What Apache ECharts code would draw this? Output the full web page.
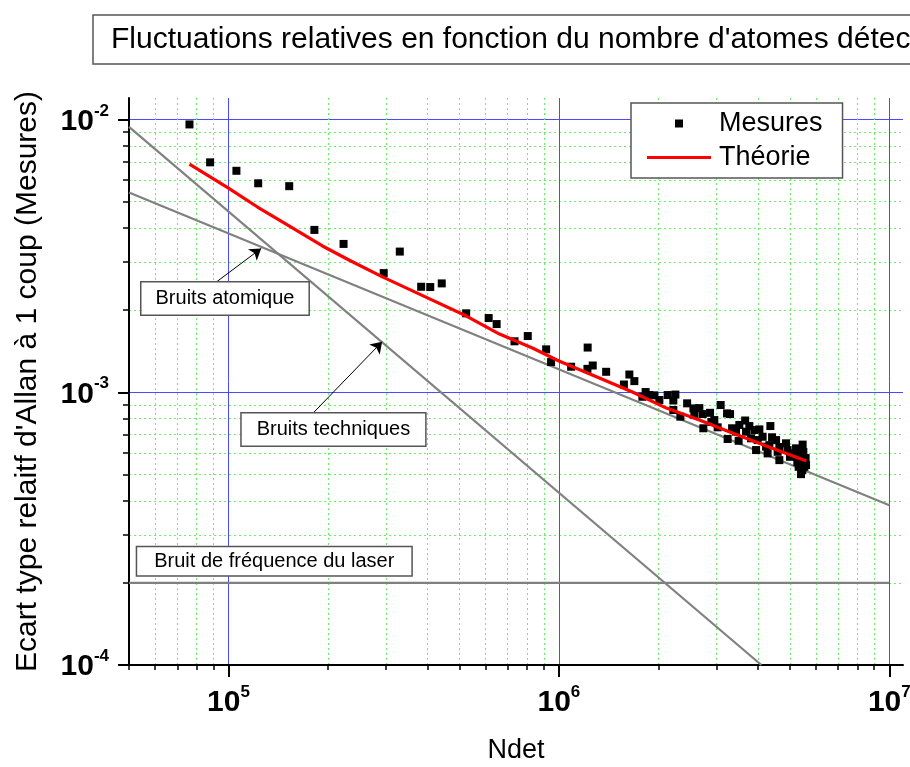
<!DOCTYPE html>
<html>
<head>
<meta charset="utf-8">
<script src="https://cdn.jsdelivr.net/npm/echarts@6/dist/echarts.min.js"></script>
<style>
html,body{margin:0;padding:0;background:#fff;}
#chart{width:910px;height:767px;}
</style>
</head>
<body>
<div id="chart"></div>
<script>
// ---- Data ----
const titleText = "Fluctuations relatives en fonction du nombre d'atomes détectés";
const xAxisTitle = "Ndet";
const yAxisTitle = "Ecart type relaitf d'Allan à 1 coup (Mesures)";

const xMajorTicks = [1e5, 1e6, 1e7];
const xMajorExponents = ['5', '6', '7'];
const xMinorTicks = [5e4, 6e4, 7e4, 8e4, 9e4, 2e5, 3e5, 4e5, 5e5, 6e5, 7e5, 8e5, 9e5, 2e6, 3e6, 4e6, 5e6, 6e6, 7e6, 8e6, 9e6];
const yMajorTicks = [1e-4, 1e-3, 1e-2];
const yMajorExponents = ['-4', '-3', '-2'];
const yMinorTicks = [2e-4, 3e-4, 4e-4, 5e-4, 6e-4, 7e-4, 8e-4, 9e-4, 2e-3, 3e-3, 4e-3, 5e-3, 6e-3, 7e-3, 8e-3, 9e-3];

const mesuresNdet = [
  7.62e4, 8.80e4, 1.057e5, 1.23e5, 1.527e5, 1.82e5, 2.23e5, 2.95e5, 3.30e5, 3.83e5,
  4.08e5, 4.42e5, 5.24e5, 6.13e5, 6.48e5, 7.34e5, 8.05e5, 9.15e5, 9.47e5, 1.089e6,
  1.222e6, 1.220e6, 1.266e6, 1.39e6, 1.573e6, 1.634e6, 1.692e6, 1.83e6, 1.789e6, 1.945e6,
  2.134e6, 2.252e6, 2.220e6, 2.220e6, 2.331e6, 2.444e6, 2.553e6, 2.570e6, 2.723e6, 2.736e6,
  2.867e6, 2.954e6, 3.023e6, 3.087e6, 3.228e6, 3.296e6, 3.241e6, 3.343e6, 3.437e6, 3.499e6,
  3.661e6, 3.684e6, 3.814e6, 3.903e6, 3.995e6, 4.043e6, 3.951e6, 4.136e6, 4.236e6, 4.365e6,
  4.417e6, 4.283e6, 4.542e6, 4.592e6, 4.647e6, 4.868e6, 4.923e6, 5.006e6, 5.098e6, 5.22e6,
  5.342e6, 5.466e6, 5.493e6, 5.405e6, 5.531e6, 5.598e6, 5.316e6, 5.267e6, 5.455e6, 5.493e6,
  5.58e6, 4.647e6, 4.335e6, 3.770e6, 3.516e6, 2.661e6, 2.893e6, 2.014e6, 1.878e6
];
const mesuresEcart = [
  9.60e-3, 6.97e-3, 6.49e-3, 5.84e-3, 5.70e-3, 3.94e-3, 3.50e-3, 2.736e-3, 3.281e-3, 2.438e-3,
  2.432e-3, 2.508e-3, 1.948e-3, 1.872e-3, 1.779e-3, 1.538e-3, 1.608e-3, 1.437e-3, 1.291e-3, 1.241e-3,
  1.459e-3, 1.219e-3, 1.254e-3, 1.189e-3, 1.068e-3, 1.162e-3, 1.099e-3, 1.002e-3, 9.63e-4, 9.745e-4,
  9.77e-4, 9.81e-4, 9.33e-4, 8.61e-4, 8.14e-4, 9.11e-4, 8.73e-4, 8.25e-4, 8.32e-4, 7.38e-4,
  8.41e-4, 7.91e-4, 7.44e-4, 8.98e-4, 8.37e-4, 8.32e-4, 6.74e-4, 7.38e-4, 7.17e-4, 6.64e-4,
  7.88e-4, 7.17e-4, 6.78e-4, 7.27e-4, 6.68e-4, 7.31e-4, 6.14e-4, 6.87e-4, 6.32e-4, 7.52e-4,
  6.84e-4, 5.97e-4, 6.68e-4, 6.05e-4, 5.64e-4, 6.50e-4, 6.14e-4, 5.80e-4, 5.97e-4, 6.23e-4,
  5.89e-4, 6.43e-4, 5.64e-4, 5.01e-4, 5.33e-4, 5.41e-4, 5.33e-4, 5.55e-4, 5.19e-4, 6.04e-4,
  5.74e-4, 6.30e-4, 6.40e-4, 7.52e-4, 7.59e-4, 8.75e-4, 7.78e-4, 9.37e-4, 9.77e-4
];

const theorieNdet = [7.62e4, 1e5, 1.224e5, 1.477e5, 1.925e5, 2.323e5, 2.924e5, 3.784e5, 5.25e5, 6.61e5,
  8.315e5, 1e6, 1.326e6, 1.669e6, 2.115e6, 2.661e6, 3.35e6, 4.245e6, 5.61e6];
const theorieEcart = [6.87e-3, 5.61e-3, 4.78e-3, 4.17e-3, 3.44e-3, 3.05e-3, 2.65e-3, 2.29e-3, 1.904e-3, 1.635e-3,
  1.453e-3, 1.302e-3, 1.128e-3, 1.002e-3, 8.75e-4, 7.91e-4, 7.09e-4, 6.35e-4, 5.60e-4];

const atomiqueNdet = [5e4, 1e7];
const atomiqueEcart = [5.4e-3, 3.85e-4];
const techniquesNdet = [5e4, 4.1e6];
const techniquesEcart = [9.4e-3, 1e-4];
const laserNdet = [5e4, 1e7];
const laserEcart = [2e-4, 2e-4];

// annotation labels (text, anchor in data space)
const annotTexts = ['Bruits atomique', 'Bruits techniques', 'Bruit de fréquence du laser'];
const annotNdet = [9.76e4, 2.078e5, 1.376e5];
const annotEcart = [2.208e-3, 7.30e-4, 2.40e-4];
// arrows: start and tip in data space
const arrowStartNdet = [9.07e4, 1.812e5];
const arrowStartEcart = [2.508e-3, 8.44e-4];
const arrowTipNdet = [1.256e5, 2.917e5];
const arrowTipEcart = [3.37e-3, 1.532e-3];

// ---- Chart ----
const FONT = "'Liberation Sans', Arial, sans-serif";
const NARROW = "'Liberation Sans Narrow', 'Arial Narrow', 'Liberation Sans', sans-serif";
const zip = (a, b) => a.map((v, i) => [v, b[i]]);
const near = (v, t) => Math.abs(Math.log10(v) - Math.log10(t)) < 1e-6;
const richLbl = {
  b: { fontFamily: NARROW, fontWeight: 'bold', fontSize: 30, lineHeight: 34, verticalAlign: 'bottom', color: '#000' },
  s: { fontFamily: NARROW, fontWeight: 'bold', fontSize: 17, lineHeight: 17, verticalAlign: 'top', color: '#000' }
};
const lblFmt = (ticks, exps) => (v) => {
  const i = ticks.findIndex(t => near(v, t));
  return i < 0 ? '' : '{b|10}{s|' + exps[i] + '}';
};

const chart = echarts.init(document.getElementById('chart'), null, { renderer: 'canvas' });

const arrowData = arrowStartNdet.map((x, i) => [
  { coord: [x, arrowStartEcart[i]] },
  { coord: [arrowTipNdet[i], arrowTipEcart[i]] }
]);

const option = {
  animation: false,
  backgroundColor: '#fff',
  textStyle: { fontFamily: FONT },
  title: {
    text: titleText, left: 93, top: 15,
    padding: [10, 400, 9, 18],
    borderColor: '#555', borderWidth: 1.5,
    textStyle: { fontFamily: FONT, fontSize: 30, fontWeight: 'normal', color: '#000' }
  },
  legend: {
    orient: 'vertical', left: 631, top: 103,
    data: [
      { name: 'Mesures', icon: 'path://M0,0H10V10H0Z' },
      { name: 'Théorie', icon: 'path://M0,0H64V3H0Z' }
    ],
    itemWidth: 64, itemHeight: 8, itemGap: 7,
    symbolKeepAspect: true,
    textStyle: { fontFamily: FONT, fontSize: 27, color: '#000', padding: [0, 0, 0, 3] },
    backgroundColor: '#fff', borderColor: '#555', borderWidth: 1.5,
    padding: [7, 20, 7, 16], z: 50
  },
  grid: { left: 129, right: 7, top: 98, bottom: 102, containLabel: false, outerBoundsMode: 'none' },
  xAxis: [
    {
      type: 'log', logBase: 10, min: 5e4, max: 1.1e7, position: 'bottom',
      name: xAxisTitle, nameLocation: 'middle', nameGap: 72, nameMoveOverlap: false,
      nameTextStyle: { fontFamily: FONT, fontSize: 27, color: '#000' },
      axisLine: { show: true, onZero: false, lineStyle: { color: '#000', width: 2 } },
      axisTick: { show: true, customValues: xMajorTicks, length: 12, lineStyle: { color: '#000', width: 2 } },
      axisLabel: { show: true, customValues: xMajorTicks, margin: 19, formatter: lblFmt(xMajorTicks, xMajorExponents), rich: richLbl },
      splitLine: { show: true, lineStyle: { color: '#4a4aff', width: 1 } },
      minorTick: { show: false }, minorSplitLine: { show: false }
    },
    {
      type: 'log', logBase: 10, min: 5e4, max: 1.1e7, position: 'bottom',
      axisLine: { show: false },
      axisTick: { show: true, customValues: xMinorTicks, length: 5, lineStyle: { color: '#000', width: 1.5 } },
      axisLabel: { show: false },
      splitLine: { show: true, lineStyle: { color: '#66f066', width: 1, type: [2, 3] } }
    }
  ],
  yAxis: [
    {
      type: 'log', logBase: 10, min: 1e-4, max: 0.012, position: 'left',
      name: yAxisTitle, nameLocation: 'middle', nameGap: 86, nameMoveOverlap: false,
      nameTextStyle: { fontFamily: FONT, fontSize: 30, color: '#000' },
      axisLine: { show: true, onZero: false, lineStyle: { color: '#000', width: 2 } },
      axisTick: { show: true, customValues: yMajorTicks, length: 11, lineStyle: { color: '#000', width: 2 } },
      axisLabel: { show: true, customValues: yMajorTicks, margin: 20, formatter: lblFmt(yMajorTicks, yMajorExponents), rich: richLbl },
      splitLine: { show: true, lineStyle: { color: '#4a4aff', width: 1 } },
      minorTick: { show: false }, minorSplitLine: { show: false }
    },
    {
      type: 'log', logBase: 10, min: 1e-4, max: 0.012, position: 'left',
      axisLine: { show: false },
      axisTick: { show: true, customValues: yMinorTicks, length: 6, lineStyle: { color: '#000', width: 1.5 } },
      axisLabel: { show: false },
      splitLine: { show: true, lineStyle: { color: '#66f066', width: 1, type: [2, 3] } }
    }
  ],
  series: [
    {
      name: 'atomique', type: 'line', data: zip(atomiqueNdet, atomiqueEcart),
      showSymbol: false, symbol: 'none', silent: true,
      lineStyle: { color: '#808080', width: 2.2 }, z: 3
    },
    {
      name: 'techniques', type: 'line', data: zip(techniquesNdet, techniquesEcart),
      showSymbol: false, symbol: 'none', silent: true,
      lineStyle: { color: '#808080', width: 2.2 }, z: 3
    },
    {
      name: 'laser', type: 'line', data: zip(laserNdet, laserEcart),
      showSymbol: false, symbol: 'none', silent: true,
      lineStyle: { color: '#808080', width: 2.2 }, z: 3,
      markLine: {
        silent: true, symbol: ['none', 'arrow'], symbolSize: 11,
        label: { show: false },
        lineStyle: { color: '#000', width: 1, type: 'solid' },
        emphasis: { disabled: true },
        data: arrowData
      }
    },
    {
      name: 'Mesures', type: 'scatter', data: zip(mesuresNdet, mesuresEcart),
      symbol: 'rect', symbolSize: 8, itemStyle: { color: '#000', opacity: 1 }, z: 4
    },
    {
      name: 'Théorie', type: 'line', data: zip(theorieNdet, theorieEcart),
      showSymbol: false, symbol: 'none', smooth: false,
      itemStyle: { color: '#ff0000' },
      lineStyle: { color: '#ff0000', width: 3.2 }, z: 5
    }
  ]
};
chart.setOption(option);

const graphics = annotTexts.map((t, i) => {
  const p = chart.convertToPixel({ gridIndex: 0 }, [annotNdet[i], annotEcart[i]]);
  const pad = i === 2 ? [4, 17] : (i === 1 ? [6, 15] : [6, 14]);
  return {
    type: 'text', x: p[0], y: p[1], z: 100, silent: true,
    style: {
      text: t, font: "20px 'Liberation Sans', Arial, sans-serif", fill: '#000',
      align: 'center', verticalAlign: 'middle',
      backgroundColor: '#fff', borderColor: '#555', borderWidth: 1.5, padding: pad
    }
  };
});
chart.setOption({ graphic: graphics });
</script>
</body>
</html>
